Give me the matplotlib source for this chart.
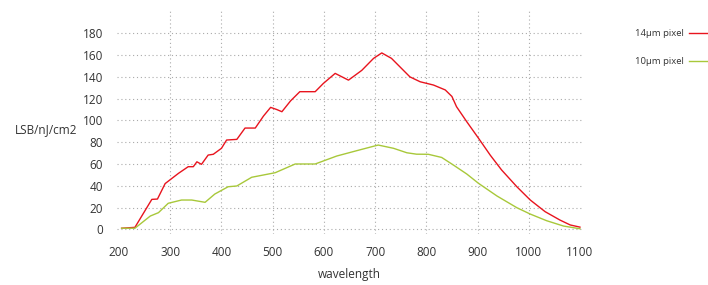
import matplotlib.pyplot as plt

# wavelength (nm) / sensitivity (LSB/nJ/cm2)
wl_14 = [205, 231, 264, 275, 290, 316, 335, 345, 352, 361, 374, 384, 400,
         410, 430, 446, 466, 482, 496, 508, 518, 535, 553, 583, 599, 622, 648,
         674, 697, 713, 732, 768, 788, 814, 837, 850, 859, 879, 902, 925, 947,
         977, 1003, 1032, 1061, 1081, 1100]
px_14 = [1.0, 1.8, 27.5, 27.8, 42, 51.4, 57.5, 57.5, 62, 59.7, 68.2, 68.9, 74.4,
         82, 82.6, 93, 93, 104, 112, 110, 108, 118, 126.4, 126.4, 134, 143.2, 137,
         146, 157, 162, 157, 140, 135.5, 132.5, 128, 122, 112.6, 98.8, 83.6, 68, 54.5,
         39, 26.9, 16.2, 8.5, 4, 2]

wl_10 = [205, 231, 261, 277, 296, 322, 342, 368, 387, 413, 430, 459, 505,
         544, 583, 625, 664, 706, 736, 762, 781, 804, 830, 853, 879, 902, 938,
         977, 1003, 1035, 1068, 1100]
px_10 = [1.0, 1.0, 12.2, 15.3, 23.9, 26.9, 26.9, 24.8, 32.4, 39.1, 39.8, 47.8, 52,
         60, 60, 67.3, 72.2, 77.4, 74.4, 70.3, 69, 68.9, 66, 59, 50.8, 42.2, 30.6,
         19.8, 14, 7.9, 3, 0.5]

xticks = [200, 300, 400, 500, 600, 700, 800, 900, 1000, 1100]
yticks = [0, 20, 40, 60, 80, 100, 120, 140, 160, 180]

plt.rcParams['font.family'] = ['Open Sans', 'DejaVu Sans']
txt = '#333333'

fig = plt.figure(figsize=(7.08, 2.85), dpi=100)
ax = fig.add_axes([117 / 708, 1 - 234 / 285, 465 / 708, 223 / 285])

ax.plot(wl_14, px_14, color='#e8141e', lw=1.0, label='14µm pixel')
ax.plot(wl_10, px_10, color='#a8c83a', lw=1.0, label='10µm pixel')

ax.set_xlim(196, 1104)
ax.set_ylim(-4.3, 200.5)
ax.set_xticks(xticks)
ax.set_yticks(yticks)
ax.tick_params(length=0, labelsize=8.5, colors=txt)
ax.tick_params(axis='y', pad=10)
ax.tick_params(axis='x', pad=9)
ax.grid(True, color='#aaaaaa', lw=0.8, linestyle=(0, (1, 2.5)))
# no vertical gridline at the two ends
xt = ax.xaxis.get_major_ticks()
xt[0].gridline.set_visible(False)
xt[-1].gridline.set_visible(False)
for s in ax.spines.values():
    s.set_visible(False)

ax.set_xlabel('wavelength', fontsize=8.5, color=txt, labelpad=6)
fig.text(15 / 708, 1 - 130 / 285, 'LSB/nJ/cm2', fontsize=8.5, color=txt,
         va='center', ha='left')

fig.legend(loc='upper right', bbox_to_anchor=(1.0, 1 - 29 / 285),
           markerfirst=False, frameon=False, fontsize=6.8, labelcolor=txt,
           handlelength=2.0, handletextpad=0.6, labelspacing=2.0,
           borderaxespad=0, borderpad=0)

plt.savefig('out.png', dpi=100)
